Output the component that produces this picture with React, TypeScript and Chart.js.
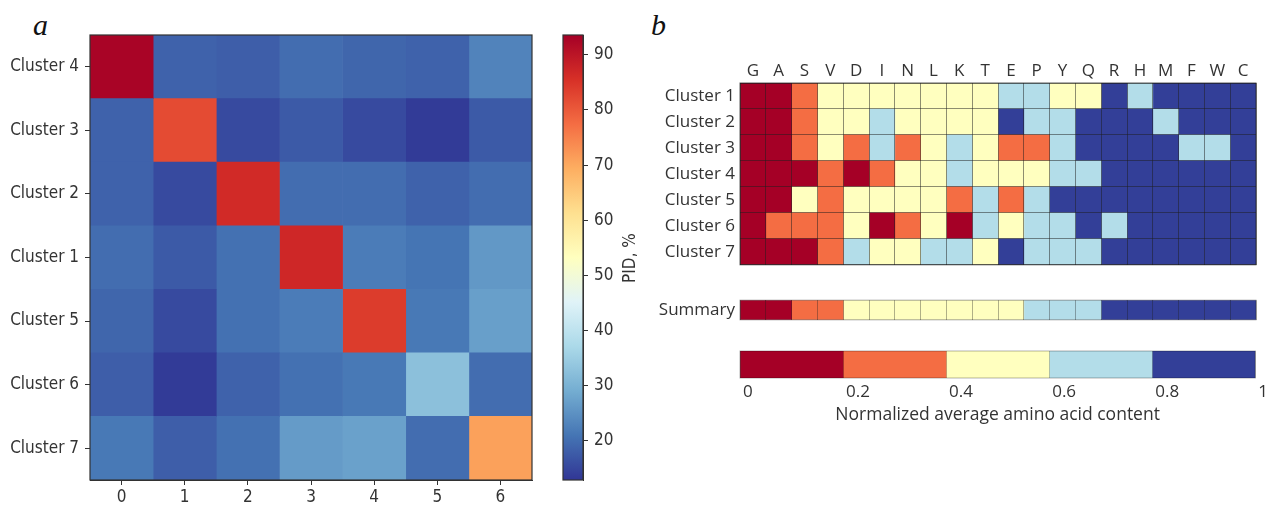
import React, { useEffect, useRef } from "react";
import { Chart, registerables } from "chart.js";

Chart.register(...registerables);

// ---------- Panel a: PID heatmap ----------
const pidRowLabels = ["Cluster 4", "Cluster 3", "Cluster 2", "Cluster 1", "Cluster 5", "Cluster 6", "Cluster 7"];
const pidColLabels = ["0", "1", "2", "3", "4", "5", "6"];
const pidCluster4 = [93, 18.5, 18, 20, 19, 18.5, 23];
const pidCluster3 = [18.5, 82, 15.5, 17.5, 15.5, 13.5, 17.5];
const pidCluster2 = [18.5, 15.5, 86.5, 20, 20, 18.5, 20];
const pidCluster1 = [20, 17.5, 20.5, 87, 22, 21, 26];
const pidCluster5 = [19, 15.5, 20.5, 22, 84, 21.5, 27];
const pidCluster6 = [18, 13.5, 18.5, 20.5, 21.5, 32.5, 20];
const pidCluster7 = [21.5, 18, 20.5, 26.5, 27.3, 20, 71];
const pidMin = 12.9;
const pidMax = 93.6;
const pidTickValues = [20, 30, 40, 50, 60, 70, 80, 90];
const pidTitle = "PID, %";

// ---------- Panel b: amino acid content ----------
const aminoAcids = ["G", "A", "S", "V", "D", "I", "N", "L", "K", "T", "E", "P", "Y", "Q", "R", "H", "M", "F", "W", "C"];
const aaClusterLabels = ["Cluster 1", "Cluster 2", "Cluster 3", "Cluster 4", "Cluster 5", "Cluster 6", "Cluster 7"];
// level: 0 = highest (dark red) ... 4 = lowest (dark blue)
const aaCluster1 = [0, 0, 1, 2, 2, 2, 2, 2, 2, 2, 3, 3, 2, 2, 4, 3, 4, 4, 4, 4];
const aaCluster2 = [0, 0, 1, 2, 2, 3, 2, 2, 2, 2, 4, 3, 3, 4, 4, 4, 3, 4, 4, 4];
const aaCluster3 = [0, 0, 1, 2, 1, 3, 1, 2, 3, 2, 1, 1, 3, 4, 4, 4, 4, 3, 3, 4];
const aaCluster4 = [0, 0, 0, 1, 0, 1, 2, 2, 3, 2, 2, 2, 3, 3, 4, 4, 4, 4, 4, 4];
const aaCluster5 = [0, 0, 2, 1, 2, 2, 2, 2, 1, 3, 1, 3, 4, 4, 4, 4, 4, 4, 4, 4];
const aaCluster6 = [0, 1, 1, 1, 2, 0, 1, 2, 0, 3, 2, 3, 3, 4, 3, 4, 4, 4, 4, 4];
const aaCluster7 = [0, 0, 0, 1, 3, 2, 2, 3, 3, 2, 4, 3, 3, 3, 4, 4, 4, 4, 4, 4];
const aaSummaryLabel = "Summary";
const aaSummary = [0, 0, 1, 1, 2, 2, 2, 2, 2, 2, 2, 3, 3, 3, 4, 4, 4, 4, 4, 4];
const levelColors = ["#a50026", "#f46d43", "#ffffbf", "#b3dde9", "#333f98"];
const legendEdges = [0, 0.2, 0.4, 0.6, 0.8, 1];
const legendTickValues = [0, 0.2, 0.4, 0.6, 0.8, 1];
const legendTickLabels = ["0", "0.2", "0.4", "0.6", "0.8", "1"];
const legendTitle = "Normalized average amino acid content";

const pidRows = [pidCluster4, pidCluster3, pidCluster2, pidCluster1, pidCluster5, pidCluster6, pidCluster7];
const aaRows = [aaCluster1, aaCluster2, aaCluster3, aaCluster4, aaCluster5, aaCluster6, aaCluster7];

const RDYLBU_R = ["#313695", "#4575b4", "#74add1", "#abd9e9", "#e0f3f8", "#ffffbf", "#fee090", "#fdae61", "#f46d43", "#d73027", "#a50026"];

const FONT_A = '"DejaVu Sans Condensed", "DejaVu Sans", sans-serif';
const FONT_B = '"Open Sans", sans-serif';
const TEXT = "#333333";
const CELL_GRID = "rgba(30,30,30,0.5)";

function hexRgb(h: string) {
  const n = parseInt(h.slice(1), 16);
  return [(n >> 16) & 255, (n >> 8) & 255, n & 255];
}

function pidColor(v: number) {
  let t = (v - pidMin) / (pidMax - pidMin);
  t = Math.max(0, Math.min(1, t));
  const p = t * 10;
  const i = Math.min(9, Math.floor(p));
  const f = p - i;
  const a = hexRgb(RDYLBU_R[i]);
  const b = hexRgb(RDYLBU_R[i + 1]);
  const c = a.map((x, k) => Math.round(x + (b[k] - x) * f));
  return `rgb(${c[0]},${c[1]},${c[2]})`;
}

const frame = (color: string, width: number) => ({
  id: "frame",
  afterDraw(chart: any) {
    const { ctx, chartArea: a } = chart;
    ctx.save();
    ctx.strokeStyle = color;
    ctx.lineWidth = width;
    ctx.strokeRect(a.left, a.top, a.right - a.left, a.bottom - a.top);
    ctx.restore();
  },
});

const pidTitlePlugin = {
  id: "pidTitle",
  afterDraw(chart: any) {
    const ctx = chart.ctx;
    ctx.save();
    ctx.translate(86, 258);
    ctx.rotate(-Math.PI / 2);
    ctx.textAlign = "center";
    ctx.textBaseline = "middle";
    ctx.font = `17px ${FONT_A}`;
    ctx.fillStyle = TEXT;
    ctx.fillText(pidTitle, 0, 0);
    ctx.restore();
  },
};

const noPlugins = { legend: { display: false }, tooltip: { enabled: false } };

function heatmapConfig(): any {
  return {
    type: "bar",
    data: {
      labels: pidRowLabels,
      datasets: pidColLabels.map((lab, j) => ({
        label: lab,
        data: pidRows.map(() => [j - 0.5, j + 0.5]),
        backgroundColor: pidRows.map((r) => pidColor(r[j])),
        borderWidth: 0,
        barPercentage: 1,
        categoryPercentage: 1,
        grouped: false,
      })),
    },
    options: {
      indexAxis: "y",
      responsive: false,
      animation: false,
      layout: { padding: { top: 35, right: 13, left: 0, bottom: 0 } },
      plugins: noPlugins,
      scales: {
        x: {
          type: "linear",
          min: -0.5,
          max: 6.5,
          afterBuildTicks: (s: any) => {
            s.ticks = pidColLabels.map((_, j) => ({ value: j }));
          },
          afterFit: (s: any) => {
            s.height = 25;
          },
          ticks: {
            callback: (_v: any, i: number) => pidColLabels[i],
            color: TEXT,
            font: { family: FONT_A, size: 17 },
            padding: 2,
            maxRotation: 0,
            autoSkip: false,
          },
          grid: { drawOnChartArea: false, tickLength: 5, color: TEXT },
          border: { color: TEXT, width: 1 },
        },
        y: {
          type: "category",
          afterFit: (s: any) => {
            s.width = 90;
          },
          ticks: { color: TEXT, font: { family: FONT_A, size: 17 }, padding: 6 },
          grid: { drawOnChartArea: false, offset: false, tickLength: 5, color: TEXT },
          border: { color: TEXT, width: 1 },
        },
      },
    },
    plugins: [frame(TEXT, 1.2)],
  };
}

function colorbarConfig(): any {
  return {
    type: "bar",
    data: {
      labels: [pidTitle],
      datasets: [
        {
          data: [[pidMin, pidMax]],
          backgroundColor: (ctx: any) => {
            const chart = ctx.chart;
            const ys = chart.scales && chart.scales.y;
            if (!ys || !chart.chartArea) return "#888";
            const y0 = ys.getPixelForValue(pidMin);
            const y1 = ys.getPixelForValue(pidMax);
            const g = chart.ctx.createLinearGradient(0, y0, 0, y1);
            RDYLBU_R.forEach((c, i) => g.addColorStop(i / 10, c));
            return g;
          },
          borderWidth: 0,
          barPercentage: 1,
          categoryPercentage: 1,
        },
      ],
    },
    options: {
      responsive: false,
      animation: false,
      layout: { padding: { left: 18, top: 35, bottom: 25, right: 0 } },
      plugins: noPlugins,
      scales: {
        x: { display: false },
        y: {
          position: "right",
          min: pidMin,
          max: pidMax,
          afterBuildTicks: (s: any) => {
            s.ticks = pidTickValues.map((v) => ({ value: v }));
          },
          afterFit: (s: any) => {
            s.width = 72;
          },
          ticks: { color: TEXT, font: { family: FONT_A, size: 17 }, padding: 6 },
          grid: { drawOnChartArea: false, tickLength: 5, color: TEXT },
          border: { color: TEXT },
        },
      },
    },
    plugins: [frame(TEXT, 1.2), pidTitlePlugin],
  };
}

const cellXAxis = {
  type: "linear",
  position: "bottom",
  min: 0,
  max: 20,
  afterBuildTicks: (s: any) => {
    s.ticks = aminoAcids.concat([""]).map((_, j) => ({ value: j }));
  },
  afterFit: (s: any) => {
    s.height = 0;
  },
  ticks: { display: false },
  grid: { color: CELL_GRID, lineWidth: 1, drawTicks: false, z: 1 },
  border: { display: false },
};

function gridConfig(): any {
  return {
    type: "bar",
    data: {
      labels: aaClusterLabels,
      datasets: aminoAcids.map((aa, j) => ({
        label: aa,
        data: aaRows.map(() => [j, j + 1]),
        backgroundColor: aaRows.map((r) => levelColors[r[j]]),
        borderWidth: 0,
        barPercentage: 1,
        categoryPercentage: 1,
        grouped: false,
        xAxisID: "x",
      })),
    },
    options: {
      indexAxis: "y",
      responsive: false,
      animation: false,
      layout: { padding: { left: 0, right: 13, top: 0, bottom: 10 } },
      plugins: noPlugins,
      scales: {
        x: cellXAxis,
        x2: {
          type: "linear",
          position: "top",
          min: 0,
          max: 20,
          afterBuildTicks: (s: any) => {
            s.ticks = aminoAcids.map((_, j) => ({ value: j + 0.5 }));
          },
          afterFit: (s: any) => {
            s.height = 38;
          },
          ticks: {
            callback: (_v: any, i: number) => aminoAcids[i],
            color: TEXT,
            font: { family: FONT_B, size: 17 },
            padding: 2,
            maxRotation: 0,
            autoSkip: false,
          },
          grid: { display: false, drawTicks: false },
          border: { display: false },
        },
        y: {
          type: "category",
          afterFit: (s: any) => {
            s.width = 90;
          },
          ticks: { color: TEXT, font: { family: FONT_B, size: 17 }, padding: 5 },
          grid: { color: CELL_GRID, drawTicks: false, offset: true, z: 1 },
          border: { display: false },
        },
      },
    },
    plugins: [frame("rgba(30,30,30,0.7)", 1)],
  };
}

function summaryConfig(): any {
  return {
    type: "bar",
    data: {
      labels: [aaSummaryLabel],
      datasets: aminoAcids.map((aa, j) => ({
        label: aa,
        data: [[j, j + 1]],
        backgroundColor: levelColors[aaSummary[j]],
        borderWidth: 0,
        barPercentage: 1,
        categoryPercentage: 1,
        grouped: false,
      })),
    },
    options: {
      indexAxis: "y",
      responsive: false,
      animation: false,
      layout: { padding: { left: 0, right: 13, top: 11, bottom: 12 } },
      plugins: noPlugins,
      scales: {
        x: { ...cellXAxis, grid: { color: "rgba(30,30,30,0.35)", lineWidth: 1, drawTicks: false, z: 1 } },
        y: {
          type: "category",
          afterFit: (s: any) => {
            s.width = 90;
          },
          ticks: { color: TEXT, font: { family: FONT_B, size: 17 }, padding: 5 },
          grid: { display: false, drawTicks: false },
          border: { display: false },
        },
      },
    },
    plugins: [frame("rgba(30,30,30,0.4)", 1)],
  };
}

function legendConfig(): any {
  return {
    type: "bar",
    data: {
      labels: [""],
      datasets: levelColors.map((c, i) => ({
        label: String(i),
        data: [[legendEdges[i], legendEdges[i + 1]]],
        backgroundColor: c,
        borderWidth: 0,
        barPercentage: 1,
        categoryPercentage: 1,
        grouped: false,
      })),
    },
    options: {
      indexAxis: "y",
      responsive: false,
      animation: false,
      layout: { padding: { left: 90, right: 13, top: 11, bottom: 0 } },
      plugins: noPlugins,
      scales: {
        y: { type: "category", display: false },
        x: {
          type: "linear",
          min: 0,
          max: 1,
          afterBuildTicks: (s: any) => {
            s.ticks = legendTickValues.map((v) => ({ value: v }));
          },
          afterFit: (s: any) => {
            s.height = 57;
          },
          ticks: {
            callback: (_v: any, i: number) => legendTickLabels[i],
            color: TEXT,
            font: { family: FONT_B, size: 17 },
            align: "start",
            labelOffset: 3,
            padding: 4,
            maxRotation: 0,
            autoSkip: false,
          },
          grid: { color: "rgba(0,0,0,0.2)", drawTicks: false, z: 1 },
          border: { display: false },
          title: {
            display: true,
            text: legendTitle,
            color: TEXT,
            font: { family: FONT_B, size: 17.5 },
            padding: { top: 0, bottom: 9 },
          },
        },
      },
    },
    plugins: [frame("rgba(0,0,0,0.3)", 1)],
  };
}

function ChartCanvas(props: { left: number; top: number; width: number; height: number; make: () => any }) {
  const ref = useRef<HTMLCanvasElement | null>(null);
  useEffect(() => {
    if (!ref.current) return;
    const chart = new Chart(ref.current, props.make());
    return () => chart.destroy();
  }, []);
  return (
    <canvas
      ref={ref}
      width={props.width}
      height={props.height}
      style={{ position: "absolute", left: props.left, top: props.top, width: props.width, height: props.height, display: "block" }}
    />
  );
}

const panelLabel: React.CSSProperties = {
  position: "absolute",
  fontFamily: '"Liberation Serif", "DejaVu Serif", serif',
  fontStyle: "italic",
  fontSize: 30,
  lineHeight: "30px",
  color: "#111",
};

export default function App() {
  return (
    <div style={{ position: "absolute", left: 0, top: 0, width: 1269, height: 505, background: "#fff", overflow: "hidden" }}>
      <span style={{ ...panelLabel, left: 33, top: 10 }}>a</span>
      <span style={{ ...panelLabel, left: 651, top: 10 }}>b</span>
      <ChartCanvas left={0} top={0} width={545} height={505} make={heatmapConfig} />
      <ChartCanvas left={545} top={0} width={110} height={505} make={colorbarConfig} />
      <ChartCanvas left={650} top={45} width={619} height={235} make={gridConfig} />
      <ChartCanvas left={650} top={285} width={619} height={50} make={summaryConfig} />
      <ChartCanvas left={650} top={340} width={619} height={95} make={legendConfig} />
    </div>
  );
}
